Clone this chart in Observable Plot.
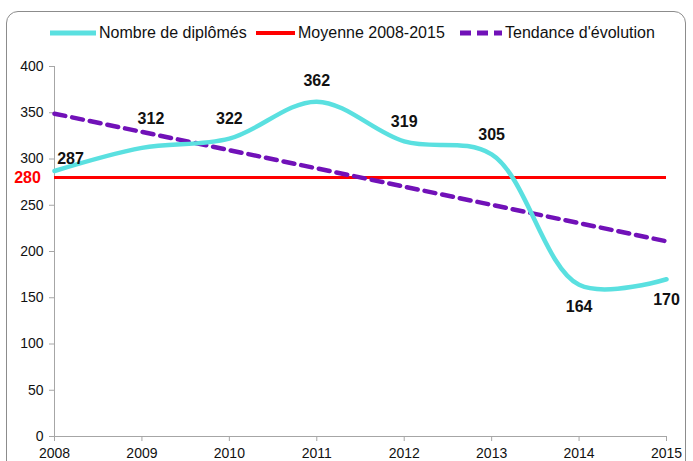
<!DOCTYPE html>
<html>
<head>
<meta charset="utf-8">
<script src="https://cdn.jsdelivr.net/npm/d3@7"></script>
<script src="https://cdn.jsdelivr.net/npm/@observablehq/plot@0.6"></script>
<style>
  body { margin: 0; background: #fff; font-family: "Liberation Sans", Arial, sans-serif; }
  #wrap { position: relative; width: 693px; height: 461px; overflow: hidden; }
  #frame { position: absolute; left: 6px; top: 11px; width: 680px; height: 470px; border: 1.5px solid #8c8c8c; border-radius: 12px; box-sizing: border-box; }
  #legend { position: relative; height: 48px; font-size: 16px; color: #111; }
  .item { position: absolute; top: 33px; display: flex; align-items: center; white-space: nowrap; transform: translateY(-50%); }
  .item svg { margin-right: 3px; }
  #chart { position: relative; }
</style>
</head>
<body>
<div id="wrap">
  <div id="frame"></div>
  <div id="legend"></div>
  <div id="chart"></div>
</div>
<script>
const years = [2008, 2009, 2010, 2011, 2012, 2013, 2014, 2015];
const graduates = [287, 312, 322, 362, 319, 305, 164, 170];
const average = 280;
const trendYears = [2008, 2015];
const trendValues = [349, 211];
const yTicks = [0, 50, 100, 150, 200, 250, 300, 350, 400];
const seriesNames = ["Nombre de diplômés", "Moyenne 2008-2015", "Tendance d'évolution"];

const cyan = "#5ae0e0";
const red = "#ff0000";
const purple = "#7111b8";

// legend
const legend = document.getElementById("legend");
const legendItems = [
  {name: seriesNames[0], color: cyan, w: 46, dash: null, sw: 5, left: 50},
  {name: seriesNames[1], color: red, w: 39, dash: null, sw: 4, left: 256},
  {name: seriesNames[2], color: purple, w: 42, dash: "11,6", sw: 5, left: 460}
];
for (const it of legendItems) {
  const d = document.createElement("div");
  d.className = "item";
  d.style.left = it.left + "px";
  d.innerHTML = `<svg width="${it.w}" height="8"><line x1="0" x2="${it.w}" y1="4" y2="4" stroke="${it.color}" stroke-width="${it.sw}" ${it.dash ? `stroke-dasharray="${it.dash}"` : ""}/></svg><span>${it.name}</span>`;
  legend.appendChild(d);
}

const data = years.map((y, i) => ({year: y, value: graduates[i]}));
const trend = trendYears.map((y, i) => ({year: y, value: trendValues[i]}));

// label placement (style, not data)
const labelDx = [16, 9, 0, 0, 0, 0, 0, 0];
const labelDy = [-12, -29, -20, -21, -20, -20, 22, 21];

const chart = Plot.plot({
  width: 693,
  height: 413,
  marginLeft: 54,
  marginRight: 27,
  marginTop: 18,
  marginBottom: 25,
  style: {fontFamily: "'Liberation Sans', Arial, sans-serif", fontSize: "14px", color: "#111", background: "transparent", overflow: "visible"},
  x: {domain: [2008, 2015], ticks: years, tickFormat: d => String(d)},
  y: {domain: [0, 400], ticks: yTicks},
  marks: [
    Plot.ruleX([2008], {stroke: "#a6a6a6", strokeWidth: 1}),
    Plot.ruleY([0], {stroke: "#a6a6a6", strokeWidth: 1}),
    Plot.axisY({ticks: yTicks, tickSize: 5, tickPadding: 6, stroke: "#a6a6a6", fill: "#111", label: null, fontSize: 14}),
    Plot.axisX({ticks: years, tickSize: 5, tickPadding: 7, stroke: "#a6a6a6", fill: "#111", label: null, fontSize: 14, tickFormat: d => String(d)}),
    Plot.ruleY([average], {x1: 2008, x2: 2015, stroke: red, strokeWidth: 3}),
    Plot.line(trend, {x: "year", y: "value", stroke: purple, strokeWidth: 4.5, strokeDasharray: "11,7"}),
    Plot.line(data, {x: "year", y: "value", stroke: cyan, strokeWidth: 4.5, curve: "catmull-rom"}),
    ...data.map((d, i) => Plot.text([d], {x: "year", y: "value", text: d => String(d.value), dx: labelDx[i], dy: labelDy[i], fontWeight: "bold", fontSize: 16, fill: "#111"})),
    Plot.text([average], {x: 2008, y: d => d, text: d => String(d), dx: -27, fill: red, fontWeight: "bold", fontSize: 16})
  ]
});

document.getElementById("chart").appendChild(chart);
</script>
</body>
</html>
